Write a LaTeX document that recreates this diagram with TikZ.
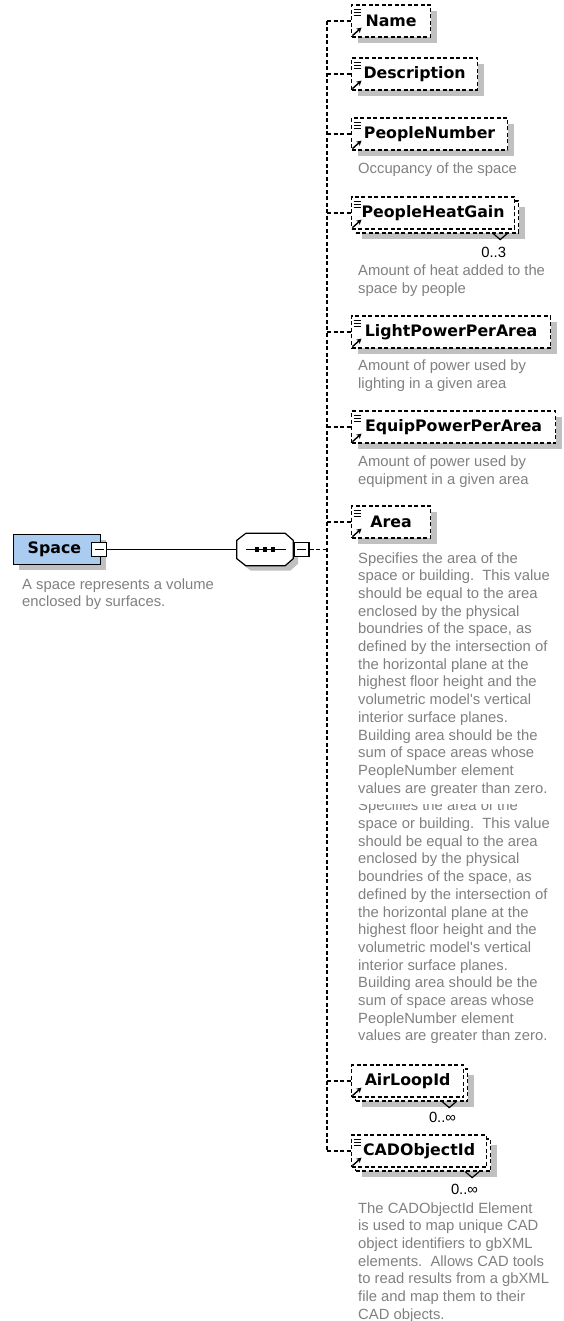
\documentclass[tikz,border=0pt]{standalone}
\usepackage{fontspec}
\usepackage{xcolor}
\usepackage{tikz}
\usetikzlibrary{arrows.meta,positioning,shadows}

\newfontfamily\labelfont{DejaVu Sans}
\newfontfamily\descfont{Liberation Sans}
\definecolor{spaceblue}{RGB}{170,204,240}
\definecolor{descgray}{RGB}{128,128,128}
\definecolor{shadowgray}{RGB}{192,192,192}

\begin{document}
\begin{tikzpicture}[
  x=1pt, y=-1pt,
  >=Stealth,
  dashline/.style={dash pattern=on 4pt off 2.5pt, line width=1.2pt},
  elembase/.style={draw, dashline, fill=white, minimum height=32pt, inner sep=0pt, anchor=west,
    font={\labelfont\bfseries\fontsize{15.8}{18}\selectfont}},
  elem/.style={elembase, drop shadow={shadow xshift=6pt, shadow yshift=-6pt, fill=shadowgray, opacity=1}},
  multi/.style={elembase, drop shadow={shadow xshift=10pt, shadow yshift=-10pt, fill=shadowgray, opacity=1},
    copy shadow={shadow xshift=4pt, shadow yshift=-4pt, draw, dashline, fill=white}},
  spacebox/.style={draw, fill=spaceblue, line width=1.3pt, minimum height=30pt, text width=59pt,
    inner xsep=14pt, inner ysep=0pt, align=left, anchor=west,
    font={\labelfont\bfseries\fontsize{15.8}{18}\selectfont},
    drop shadow={shadow xshift=5pt, shadow yshift=-5pt, fill=shadowgray, opacity=1}},
  seqbox/.style={minimum width=56pt, minimum height=32pt, inner sep=0pt},
  seqline/.style={draw, fill=white, line width=1.2pt,
    drop shadow={shadow xshift=5pt, shadow yshift=-5pt, fill=shadowgray, opacity=1}},
  minus/.style={draw, fill=white, line width=1.2pt, minimum width=15pt, minimum height=14pt, inner sep=0pt,
    path picture={\draw[line width=1.2pt] ([xshift=3pt]path picture bounding box.west) -- ([xshift=-3pt]path picture bounding box.east);}},
  desc/.style={align=left, inner sep=0pt, text=descgray, font={\descfont\fontsize{14.8}{17.7}\selectfont}},
  mult/.style={inner sep=0pt, anchor=east, font={\descfont\fontsize{14.8}{17.7}\selectfont}},
  conn/.style={draw, dashline},
  icon/.style={line width=1pt},
  refarr/.style={-{Stealth[length=5pt,width=5.5pt]}, line width=1.4pt},
  notch/.style={line width=1.2pt}
]
\useasboundingbox (0,0) rectangle (564,1321);

% root element and sequence
\node[spacebox] (space) at (13,549.5) {Space};
\node[minus] (space_minus) at (99,549.5) {};
\node[desc, below right=13pt and 9pt of space.south west] (space_desc) {A space represents a volume\\enclosed by surfaces.};

\node[seqbox] (seq) at (265,549.5) {};
\draw[seqline] ([xshift=9pt]seq.north west) -- ([xshift=-8pt]seq.north east) -- ([yshift=-7pt]seq.north east)
  -- ([yshift=7pt]seq.south east) -- ([xshift=-8pt]seq.south east) -- ([xshift=9pt]seq.south west)
  -- ([yshift=7pt]seq.south west) -- ([yshift=-7pt]seq.north west) -- cycle;
\node[minus] (seq_minus) at (301.5,549.5) {};
\coordinate (bus) at (327,549.5);
\draw[line width=1.2pt] ([xshift=9pt]seq.west) -- ([xshift=-7pt]seq.east);
\foreach \dx in {-8,0,8}
  \fill ([xshift=\dx pt]seq.center) ++(-2.2,-2.2) rectangle ++(4.4,4.4);
\draw[line width=1.2pt] (space_minus) -- (seq);

% child elements
\node[elem, minimum width=79pt] (name) at (351,21) {Name};
\node[elem, minimum width=126pt] (descr) at (351,74) {Description};
\node[elem, minimum width=156pt] (pnum) at (351,134) {PeopleNumber};
\node[multi, minimum width=163pt] (pgain) at (351,213) {PeopleHeatGain};
\node[elem, minimum width=199pt] (light) at (351,332) {LightPowerPerArea};
\node[elem, minimum width=204pt] (equip) at (351,427) {EquipPowerPerArea};
\node[elem, minimum width=79pt] (area) at (351,522) {Area};
\node[multi, minimum width=112pt] (airloop) at (351,1081) {AirLoopId};
\node[multi, minimum width=135pt] (cadid) at (351,1151) {CADObjectId};

\foreach \n in {name,descr,pnum,pgain,light,equip,area,cadid}
  \draw[icon] ([shift={(2.5,5.5)}]\n.north west) -- ++(7,0) ++(-7,3) -- ++(7,0) ++(-7,3) -- ++(7,0);
\foreach \n in {name,descr,pnum,pgain,light,equip,area,airloop,cadid}
  \draw[refarr] ([shift={(1.5,-2)}]\n.south west) -- ++(9,-8);

% occurrences
\foreach \n in {pgain,airloop,cadid}
  \draw[notch] ([shift={(-22,4)}]\n.south east) -- ++(7,6) -- ++(7,-6);
\node[mult] (pgain_occ) at ([shift={(-9,23)}]pgain.south east) {0..3};
\node[mult] (airloop_occ) at ([shift={(-8,20)}]airloop.south east) {0..∞};
\node[mult] (cadid_occ) at ([shift={(-9,22)}]cadid.south east) {0..∞};

% annotations
\node[desc, below right=12pt and 7pt of pnum.south west] (pnum_desc) {Occupancy of the space};
\node[desc, below right=35pt and 7pt of pgain.south west] (pgain_desc) {Amount of heat added to the\\space by people};
\node[desc, below right=11pt and 7pt of light.south west] (light_desc) {Amount of power used by\\lighting in a given area};
\node[desc, below right=12pt and 7pt of equip.south west] (equip_desc) {Amount of power used by\\equipment in a given area};
\node[desc, below right=261.3pt and 7pt of area.south west] (area_desc2) {Specifies the area of the\\space or building.~~This value\\should be equal to the area\\enclosed by the physical\\boundries of the space, as\\defined by the intersection of\\the horizontal plane at the\\highest floor height and the\\volumetric model's vertical\\interior surface planes.\\Building area should be the\\sum of space areas whose\\PeopleNumber element\\values are greater than zero.};
\node[desc, fill=white, inner ysep=8pt, below right=5.5pt and 7pt of area.south west] (area_desc) {Specifies the area of the\\space or building.~~This value\\should be equal to the area\\enclosed by the physical\\boundries of the space, as\\defined by the intersection of\\the horizontal plane at the\\highest floor height and the\\volumetric model's vertical\\interior surface planes.\\Building area should be the\\sum of space areas whose\\PeopleNumber element\\values are greater than zero.};
\node[desc, below right=34.5pt and 7pt of cadid.south west] (cadid_desc) {The CADObjectId Element\\is used to map unique CAD\\object identifiers to gbXML\\elements.~~Allows CAD tools\\to read results from a gbXML\\file and map them to their\\CAD objects.};

% connectors
\draw[conn] (seq_minus) -- (bus);
\draw[conn] (bus |- name.west) -- (bus |- cadid.west);
\foreach \n in {name,descr,pnum,pgain,light,equip,area,airloop,cadid}
  \draw[conn] (bus |- \n.west) -- (\n.west);

\end{tikzpicture}
\end{document}
